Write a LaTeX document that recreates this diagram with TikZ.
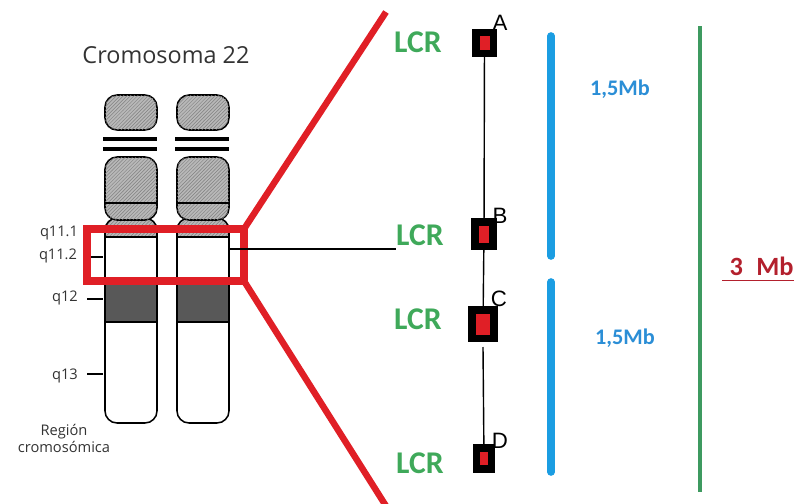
\documentclass[tikz,border=0pt]{standalone}
\usepackage{fontspec}
\setmainfont{Open Sans}
\newfontfamily\lcrfont{Carlito}
\newfontfamily\locfont{Liberation Sans}
\usetikzlibrary{patterns, positioning}
\definecolor{zoomred}{HTML}{E01F26}
\definecolor{lcrgreen}{HTML}{3FA95A}
\definecolor{barblue}{HTML}{1B9DE2}
\definecolor{mbblue}{HTML}{2B8ED6}
\definecolor{spangreen}{HTML}{3E9A60}
\definecolor{mbred}{HTML}{B3202D}
\definecolor{hatchgray}{HTML}{B8B8B8}
\definecolor{bandgray}{HTML}{585858}
\definecolor{titlegray}{HTML}{333333}

% one chromosome 22 copy, shifted by #1 (px)
\newcommand{\chromo}[1]{%
  \begin{scope}[shift={(#1,0)}]
    % q arm with its bands
    \begin{scope}
      \clip[rounded corners=0.36cm] (105,218) rectangle (157,423);
      \fill[white] (105,218) rectangle (157,423);
      \fill[hatched] (105,218) rectangle (157,237);
      \fill[bandgray] (105,282) rectangle (157,322);
    \end{scope}
    \draw[chromline, rounded corners=0.36cm] (105,218) rectangle (157,423);
    \draw[chromline] (105,237) -- (157,237);
    \draw[chromline] (105,282) -- (157,282);
    \draw[chromline] (105,322) -- (157,322);
    % p arm
    \draw[chromline, hatched, rounded corners=0.36cm] (105,157) rectangle (157,220);
    \draw[chromline] (105,203) -- (157,203);
    \draw[chromline, hatched, rounded corners=0.36cm] (105,95) rectangle (157,130);
    \draw[line width=3pt] (103,139) -- (157,139);
    \draw[line width=3pt] (103,149) -- (157,149);
  \end{scope}}

\begin{document}
\begin{tikzpicture}[
    x=0.03cm, y=-0.03cm,
    chromline/.style={line width=1.3pt},
    hatched/.style={fill=hatchgray,
                    postaction={pattern=north east lines, pattern color=black!50}},
    title/.style={font=\fontsize{20}{24}\selectfont, text=titlegray, inner sep=0},
    qlab/.style={font=\fontsize{12.5}{14.5}\selectfont, text=titlegray, inner sep=0},
    tick/.style={line width=2.5pt},
    zoombox/.style={draw=zoomred, line width=6pt, outer sep=0,
                    minimum width=4.71cm, minimum height=1.56cm},
    zoomline/.style={draw=zoomred, line width=5.5pt},
    lcr/.style={font=\lcrfont\bfseries\fontsize{27}{30}\selectfont, text=lcrgreen, inner sep=0},
    loclab/.style={font=\locfont\fontsize{19}{22}\selectfont, inner sep=0},
    locus/.style 2 args={fill=black, inner sep=0, outer sep=0,
                    path picture={\fill[zoomred]
                      ([xshift=-#1,yshift=-#2]path picture bounding box.center) rectangle
                      ([xshift=#1,yshift=#2]path picture bounding box.center);}},
    spanbar/.style={draw=barblue, line width=6.5pt, line cap=round},
    spanlab/.style={font=\lcrfont\bfseries\fontsize{19}{22}\selectfont, text=mbblue, inner sep=0},
]
\useasboundingbox (0,0) rectangle (805,504);

% chromosomes
\node[title] (title) at (166,55) {Cromosoma 22};
\chromo{0}
\chromo{72}
\coordinate (chrB) at (229,249);

\node[qlab] (q111) at (59,233) {q11.1};
\node[qlab] (q112) at (58,256) {q11.2};
\node[qlab] (q12)  at (65,298) {q12};
\node[qlab] (q13)  at (65,376) {q13};
\node[qlab, align=center] (region) at (64,438) {Región\\cromosómica};
\draw[tick] (90,257) -- (103,257);
\draw[tick] (87,299) -- (103,299);
\draw[tick] (87,374) -- (103,374);

% zoomed region
\node[zoombox] (zoom) at (165.5,255) {};
\coordinate (zt) at (386,12);
\coordinate (zb) at (386,506);
\draw[zoomline] (zoom.north east) -- (zt);
\draw[zoomline] (zoom.south east) -- (zb);

% loci
\node[lcr] (lcrA) at (418,42)  {LCR};
\node[lcr] (lcrB) at (420,235) {LCR};
\node[lcr] (lcrC) at (418,319) {LCR};
\node[lcr] (lcrD) at (420,463) {LCR};

\draw[line width=2pt] (chrB) -- (chrB -| lcrB.west);

\node[loclab] (labA) at (500,23)  {A};
\node[loclab] (labB) at (500,216) {B};
\node[loclab] (labC) at (499,299) {C};
\node[loclab] (labD) at (500,441) {D};

\node[locus={0.15cm}{0.21cm},  minimum width=0.75cm, minimum height=0.84cm] (A) at (484.5,43) {};
\node[locus={0.15cm}{0.255cm}, minimum width=0.78cm, minimum height=0.96cm] (B) at (484,234) {};
\node[locus={0.21cm}{0.315cm}, minimum width=0.9cm,  minimum height=1.08cm] (C) at (483,324) {};
\node[locus={0.12cm}{0.195cm}, minimum width=0.66cm, minimum height=0.87cm] (D) at (484,458.5) {};

\draw[line width=1.2pt] (A) -- (B);
\draw[line width=1.2pt] (B) -- (C);
\draw[line width=1.2pt] ([yshift=-1.5mm]C.south) -- (D);

% sizes
\coordinate (s1t) at (551,36);
\coordinate (s1b) at (551,256);
\coordinate (s2t) at (551,282);
\coordinate (s2b) at (551,472);
\draw[spanbar] (s1t) -- (s1b);
\draw[spanbar] (s2t) -- (s2b);
\node[spanlab] (mb1) at (620,89)  {1,5Mb};
\node[spanlab] (mb2) at (625,338) {1,5Mb};

\coordinate (gt) at (700,26);
\coordinate (gb) at (700,492);
\draw[draw=spangreen, line width=3.8pt] (gt) -- (gb);
\node[font=\lcrfont\bfseries\fontsize{22.5}{26}\selectfont, text=mbred, inner sep=0,
      anchor=base west] (mbtot) at (729.5,275) {3\hspace{0.5em}Mb};
\draw[mbred, line width=1.7pt] (722,280.5) -- (mbtot.base east |- 0,280.5);
\end{tikzpicture}
\end{document}
